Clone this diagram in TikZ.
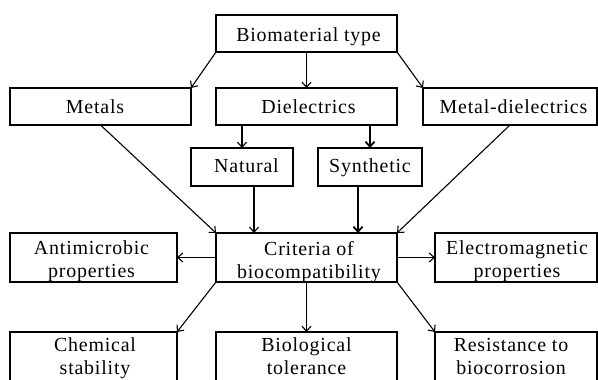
\documentclass[tikz,border=0pt]{standalone}
\usepackage{fontspec}
\setmainfont{Liberation Serif}[LetterSpace=4.0]
\usetikzlibrary{arrows.meta,calc}
\begin{document}
\begin{tikzpicture}[x=1bp,y=-1bp,
  box/.style={draw,line width=1.6bp,inner sep=0pt,outer sep=0pt},
  txt/.style={inner sep=0pt,align=center,font=\fontsize{20}{23}\selectfont},
  arr/.style={line width=1.1bp,-{Straight Barb[length=5bp,width=9bp]}},
  tarr/.style={arr,line width=1.8bp}]
\useasboundingbox (0,0) rectangle (598,379);
\clip (0,0) rectangle (598,379);
% boxes
\node[box,minimum width=181bp,minimum height=37bp] (bio) at (306.5,33.5) {};
\node[box,minimum width=181bp,minimum height=37bp] (met) at (100.5,106.5) {};
\node[box,minimum width=181bp,minimum height=37bp] (diel) at (306.5,106.5) {};
\node[box,minimum width=174bp,minimum height=37bp] (md) at (510,106.5) {};
\node[box,minimum width=102bp,minimum height=38bp] (nat) at (242,167) {};
\node[box,minimum width=104bp,minimum height=38bp] (syn) at (370,167) {};
\node[box,minimum width=181bp,minimum height=49bp] (crit) at (306.5,257.5) {};
\node[box,minimum width=167bp,minimum height=49bp] (anti) at (93.5,257.5) {};
\node[box,minimum width=162bp,minimum height=49bp] (elec) at (516,257.5) {};
\node[box,minimum width=167bp,minimum height=80bp] (chem) at (93.5,372) {};
\node[box,minimum width=181bp,minimum height=80bp] (btol) at (306.5,372) {};
\node[box,minimum width=162bp,minimum height=80bp] (res) at (516,372) {};
% texts
\node[txt,anchor=base] (bioT) at (308.5,41.5) {Biomaterial type};
\node[txt,anchor=base] (metT) at (95,113.3) {Metals};
\node[txt,anchor=base] (dielT) at (308.5,113.3) {Dielectrics};
\node[txt,anchor=base] (mdT) at (513.5,113.3) {Metal-dielectrics};
\node[txt,anchor=base] (natT) at (246.5,172) {Natural};
\node[txt,anchor=base] (synT) at (370,172) {Synthetic};
\node[txt,anchor=north] (critT) at (309,241.3) {Criteria of\\biocompatibility};
\node[txt,anchor=north] (antiT) at (91.5,240.6) {Antimicrobic\\properties};
\node[txt,anchor=north] (elecT) at (517,240.3) {Electromagnetic\\properties};
\node[txt,anchor=north] (chemT) at (95,337.5) {Chemical\\stability};
\node[txt,anchor=north] (btolT) at (306.5,337.5) {Biological\\tolerance};
\node[txt,anchor=north] (resT) at (511,338.5) {Resistance to\\biocorrosion};
% connectors
\draw[arr] (bio.south west) -- (met.north east);
\draw[arr] (bio.south) -- (diel.north);
\draw[arr] (bio.south east) -- (md.north west);
\draw[arr] (nat.north |- diel.south) -- (nat.north);
\draw[tarr] (syn.north |- diel.south) -- (syn.north);
\draw[arr] (met.south) -- (crit.north west);
\draw[arr] ([xshift=12bp]nat.south) -- ([xshift=12bp]nat.south |- crit.north);
\draw[tarr] ([xshift=-12bp]syn.south) -- ([xshift=-12bp]syn.south |- crit.north);
\draw[arr] (md.south) -- (crit.north east);
\draw[arr] (crit.west) -- (anti.east);
\draw[arr] (crit.east) -- (elec.west);
\draw[arr] (crit.south west) -- (chem.north east);
\draw[arr] (crit.south) -- (btol.north);
\draw[arr] (crit.south east) -- (res.north west);
\end{tikzpicture}
\end{document}
